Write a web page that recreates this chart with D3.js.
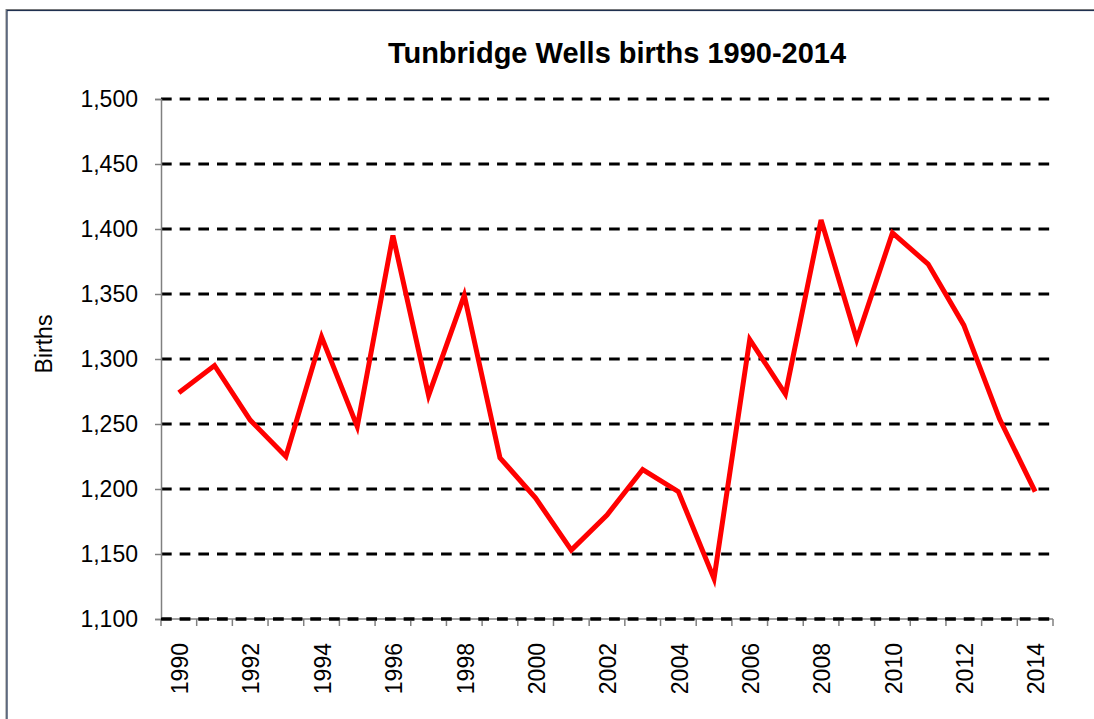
<!DOCTYPE html>
<html>
<head>
<meta charset="utf-8">
<script src="https://cdn.jsdelivr.net/npm/d3@7"></script>
<style>
  html, body { margin: 0; padding: 0; background: #fff; }
  svg { display: block; }
  text { font-family: "Liberation Sans", Arial, sans-serif; fill: #000; }
</style>
</head>
<body>
<svg id="chart" width="1094" height="719"></svg>
<script>
const years = [1990,1991,1992,1993,1994,1995,1996,1997,1998,1999,2000,2001,2002,2003,2004,2005,2006,2007,2008,2009,2010,2011,2012,2013,2014];
const births = [1274,1295,1253,1225,1317,1248,1395,1272,1349,1224,1193,1153,1180,1215,1198,1131,1315,1273,1407,1315,1397,1373,1326,1254,1198];
const yTicks = [1100,1150,1200,1250,1300,1350,1400,1450,1500];
const xLabelYears = [1990,1992,1994,1996,1998,2000,2002,2004,2006,2008,2010,2012,2014];
const chartTitle = "Tunbridge Wells births 1990-2014";
const yLabel = "Births";

const svg = d3.select("#chart");
const pLeft = 161, pRight = 1053, pTop = 99, pBottom = 619;

// outer frame (cropped on right and bottom)
svg.append("rect").attr("x", 6).attr("y", 9.5).attr("width", 1200).attr("height", 800)
  .attr("fill", "none").attr("stroke", "#808080").attr("stroke-width", 1);
svg.append("rect").attr("x", 7).attr("y", 10.5).attr("width", 1200).attr("height", 800)
  .attr("fill", "none").attr("stroke", "#1f3050").attr("stroke-width", 1.2);

const x = d3.scaleBand().domain(years).range([pLeft, pRight]).padding(0);
const y = d3.scaleLinear().domain([1100, 1500]).range([pBottom, pTop]);

// gridlines
svg.append("g").selectAll("line").data(yTicks).join("line")
  .attr("x1", pLeft).attr("x2", pRight)
  .attr("y1", d => y(d)).attr("y2", d => y(d))
  .attr("stroke", "#000").attr("stroke-width", 3)
  .attr("stroke-dasharray", "10.67,8");

// y axis
const fmt = d3.format(",");
const yAxis = d3.axisLeft(y).tickValues(yTicks).tickFormat(fmt).tickSize(6).tickPadding(17);
const gy = svg.append("g").attr("transform", `translate(${pLeft},0)`).call(yAxis);
gy.select(".domain").attr("stroke", "#808080").attr("stroke-width", 1.5);
gy.selectAll(".tick line").attr("stroke", "#808080").attr("stroke-width", 1.5);
gy.selectAll(".tick text").attr("font-size", 23).attr("font-family", "Liberation Sans, Arial, sans-serif").attr("fill", "#000");

// x axis: ticks at band boundaries
const boundaries = years.map(d => x(d)).concat([pRight]);
const gx = svg.append("g");
gx.append("line").attr("x1", pLeft).attr("x2", pRight).attr("y1", pBottom).attr("y2", pBottom)
  .attr("stroke", "#808080").attr("stroke-width", 1.5);
gx.selectAll("line.tk").data(boundaries).join("line").attr("class", "tk")
  .attr("x1", d => d).attr("x2", d => d).attr("y1", pBottom).attr("y2", pBottom + 7)
  .attr("stroke", "#808080").attr("stroke-width", 1.5);
// redraw dashed 1100 gridline on top of axis line
svg.append("line").attr("x1", pLeft).attr("x2", pRight).attr("y1", y(1100)).attr("y2", y(1100))
  .attr("stroke", "#000").attr("stroke-width", 3).attr("stroke-dasharray", "10.67,8");

gx.selectAll("text").data(xLabelYears).join("text")
  .attr("transform", d => `translate(${x(d) + x.bandwidth() / 2 + 1},643) rotate(-90)`)
  .attr("text-anchor", "end").attr("dy", "0.36em")
  .attr("font-size", 23).text(d => d);

// line
const line = d3.line().x((d, i) => x(years[i]) + x.bandwidth() / 2).y(d => y(d));
svg.append("path").datum(births).attr("d", line)
  .attr("fill", "none").attr("stroke", "#ff0000").attr("stroke-width", 5)
  .attr("stroke-linejoin", "miter");

// title
svg.append("text").attr("x", 617).attr("y", 63).attr("text-anchor", "middle")
  .attr("font-size", 29).attr("font-weight", "bold").text(chartTitle);

// y label
svg.append("text").attr("transform", "translate(44,344) rotate(-90)")
  .attr("text-anchor", "middle").attr("dy", "0.35em").attr("font-size", 23).text(yLabel);
</script>
</body>
</html>
